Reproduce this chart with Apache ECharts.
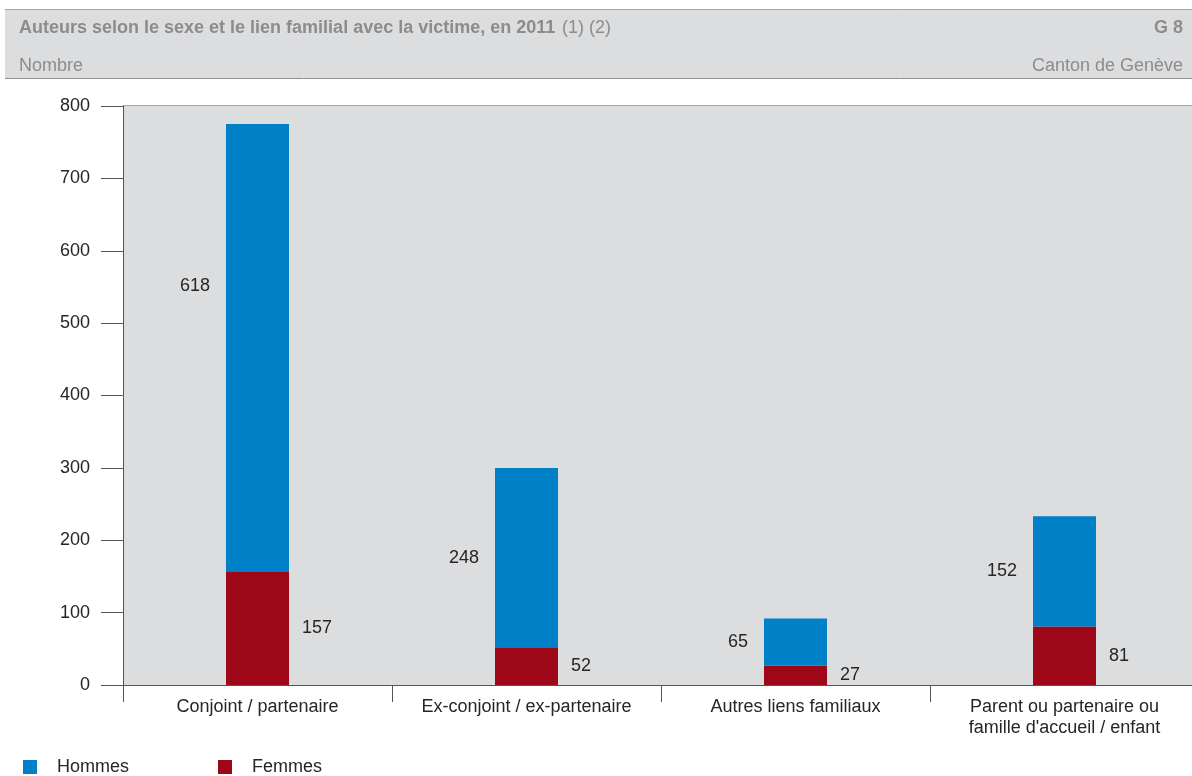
<!DOCTYPE html>
<html>
<head>
<meta charset="utf-8">
<script src="https://cdn.jsdelivr.net/npm/echarts@6/dist/echarts.min.js"></script>
<style>
  html, body { margin: 0; padding: 0; background: #ffffff; overflow: hidden; }
  #chart { width: 1199px; height: 776px; }
</style>
</head>
<body>
<div id="chart"></div>
<script>
// Auteurs selon le sexe et le lien familial avec la victime, Genève 2011
const categories = [
  'Conjoint / partenaire',
  'Ex-conjoint / ex-partenaire',
  'Autres liens familiaux',
  "Parent ou partenaire ou\nfamille d'accueil / enfant"
];
const hommes = [618, 248, 65, 152];
const femmes = [157, 52, 27, 81];
const yTicks = { min: 0, max: 800, interval: 100 };

const FONT = '"Liberation Sans", Arial, sans-serif';
const FS = 18;
const BLUE = '#0080c6';
const RED = '#9e0717';
const HEAD_GREY = '#8c8c8c';
const TEXT = '#262626';

const chart = echarts.init(document.getElementById('chart'), null, { renderer: 'canvas' });

// first Hommes label sits higher in its segment
const hommesData = hommes.map((v, i) => i === 0
  ? { value: v, label: { offset: [0, -62] } }
  : v);

const legendBase = {
  top: 758, icon: 'rect', padding: 0,
  itemWidth: 14, itemHeight: 14, itemGap: 0, selectedMode: false,
  textStyle: { fontSize: FS, color: TEXT, fontFamily: FONT, padding: [0, 0, 0, 15] }
};

chart.setOption({
  animation: false,
  textStyle: { fontFamily: FONT },
  grid: {
    left: 123, right: 0, top: 106, bottom: 91,
    show: true, backgroundColor: '#dcdddf', borderWidth: 0
  },
  legend: [
    Object.assign({ data: ['Hommes'], left: 23 }, legendBase),
    Object.assign({ data: ['Femmes'], left: 218 }, legendBase)
  ],
  xAxis: {
    type: 'category',
    data: categories,
    boundaryGap: true,
    axisLine: { show: true, lineStyle: { color: '#555', width: 1 } },
    axisTick: { show: true, length: 17, alignWithLabel: false, lineStyle: { color: '#555' } },
    axisLabel: {
      fontSize: FS, color: TEXT, margin: 12, lineHeight: 21,
      fontFamily: FONT, interval: 0
    },
    splitLine: { show: false }
  },
  yAxis: {
    type: 'value',
    min: yTicks.min, max: yTicks.max, interval: yTicks.interval,
    axisLine: { show: true, lineStyle: { color: '#555', width: 1 } },
    axisTick: { show: true, length: 22, inside: false, lineStyle: { color: '#555' } },
    axisLabel: { fontSize: FS, color: TEXT, margin: 33, fontFamily: FONT },
    splitLine: { show: false }
  },
  series: [
    {
      name: 'Femmes', type: 'bar', stack: 'total', barWidth: 63,
      data: femmes,
      itemStyle: { color: RED },
      label: {
        show: true, position: 'right', distance: 13,
        fontSize: FS, color: TEXT, fontFamily: FONT
      }
    },
    {
      name: 'Hommes', type: 'bar', stack: 'total', barWidth: 63,
      data: hommesData,
      itemStyle: { color: BLUE },
      label: {
        show: true, position: 'left', distance: 16,
        fontSize: FS, color: TEXT, fontFamily: FONT
      }
    }
  ],
  color: [RED, BLUE],
  graphic: [
    // header band
    {
      type: 'rect', left: 5, top: 10, silent: true,
      shape: { width: 1194, height: 68 },
      style: { fill: '#dcdddf' }
    },
    {
      type: 'line', silent: true,
      shape: { x1: 5, y1: 9.5, x2: 1199, y2: 9.5 },
      style: { stroke: '#a6a6a6', lineWidth: 1 }
    },
    {
      type: 'line', silent: true,
      shape: { x1: 5, y1: 78.5, x2: 1199, y2: 78.5 },
      style: { stroke: '#8f8f8f', lineWidth: 1 }
    },
    {
      type: 'text', left: 19, top: 19, silent: true,
      style: {
        text: '{b|Auteurs selon le sexe et le lien familial avec la victime, en 2011}  {n|(1) (2)}',
        rich: {
          b: { fontSize: FS, fontWeight: 'bold', fill: HEAD_GREY, fontFamily: FONT },
          n: { fontSize: FS, fill: HEAD_GREY, fontFamily: FONT }
        }
      }
    },
    {
      type: 'text', right: 16, top: 19, silent: true,
      style: { text: 'G 8', fontSize: FS, fontWeight: 'bold', fill: HEAD_GREY, fontFamily: FONT }
    },
    {
      type: 'text', left: 19, top: 57, silent: true,
      style: { text: 'Nombre', fontSize: FS, fill: HEAD_GREY, fontFamily: FONT }
    },
    {
      type: 'text', right: 16, top: 57, silent: true,
      style: { text: 'Canton de Genève', fontSize: FS, fill: HEAD_GREY, fontFamily: FONT }
    },
    // top edge of plot area
    {
      type: 'line', silent: true,
      shape: { x1: 123, y1: 105.5, x2: 1199, y2: 105.5 },
      style: { stroke: '#a6a6a6', lineWidth: 1 }
    }
  ]
});
</script>
</body>
</html>
